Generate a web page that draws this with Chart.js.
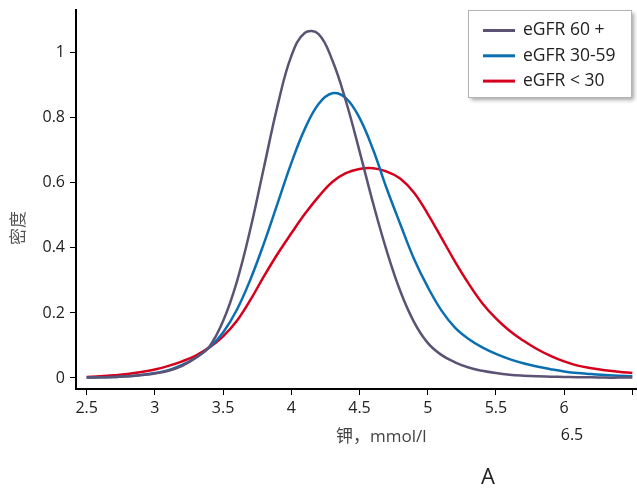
<!DOCTYPE html>
<html>
<head>
<meta charset="utf-8">
<script src="https://cdn.jsdelivr.net/npm/chart.js@4"></script>
<style>
  html, body { margin: 0; padding: 0; background: #fff; }
  #wrap { width: 637px; height: 488px; }
</style>
</head>
<body>
<div id="wrap"><canvas id="kde" width="637" height="488"></canvas></div>
<script>
// potassium, mmol/l (x positions of the density samples)
const potassium = [2.5, 2.6, 2.7, 2.8, 2.9, 3.0, 3.1, 3.2, 3.3, 3.4,
                   3.5, 3.6, 3.7, 3.8, 3.9, 4.0, 4.1, 4.2, 4.3, 4.4,
                   4.5, 4.6, 4.7, 4.8, 4.9, 5.0, 5.1, 5.2, 5.3, 5.4,
                   5.5, 5.6, 5.7, 5.8, 5.9, 6.0, 6.1, 6.2, 6.3, 6.4, 6.5];

const egfr60 = [0.001, 0.002, 0.003, 0.005, 0.009, 0.014, 0.022, 0.037, 0.062, 0.097,
                0.175, 0.295, 0.458, 0.649, 0.839, 0.990, 1.062, 1.058, 0.978, 0.852,
                0.698, 0.537, 0.390, 0.266, 0.172, 0.108, 0.071, 0.048, 0.032, 0.022,
                0.015, 0.010, 0.007, 0.005, 0.004, 0.003, 0.002, 0.002, 0.001, 0.001, 0.001];

const egfr30 = [0.001, 0.002, 0.003, 0.005, 0.009, 0.015, 0.024, 0.040, 0.062, 0.094,
                0.140, 0.209, 0.303, 0.415, 0.538, 0.661, 0.767, 0.843, 0.876, 0.861,
                0.800, 0.702, 0.582, 0.472, 0.366, 0.280, 0.208, 0.155, 0.120, 0.094,
                0.074, 0.058, 0.045, 0.035, 0.027, 0.020, 0.015, 0.012, 0.009, 0.007, 0.005];

const egfrLow = [0.003, 0.005, 0.008, 0.012, 0.018, 0.026, 0.037, 0.051, 0.069, 0.094,
                 0.128, 0.175, 0.240, 0.313, 0.382, 0.445, 0.505, 0.558, 0.603, 0.630,
                 0.643, 0.645, 0.635, 0.613, 0.570, 0.505, 0.432, 0.358, 0.290, 0.230,
                 0.183, 0.145, 0.115, 0.089, 0.068, 0.051, 0.038, 0.030, 0.024, 0.019, 0.015];

const seriesNames = ["eGFR 60 +", "eGFR 30-59", "eGFR < 30"];
const xTicks = [2.5, 3, 3.5, 4, 4.5, 5, 5.5, 6, 6.5];
const yTicks = [0, 0.2, 0.4, 0.6, 0.8, 1];

const textColor = "#222";
const font = "'Open Sans', 'Noto Sans CJK SC', sans-serif";

function pts(ys) {
    return potassium.map(function (x, i) { return { x: x, y: ys[i] }; });
}

function ds(label, ys, color) {
    return {
        label: label,
        data: pts(ys),
        borderColor: color,
        backgroundColor: color,
        borderWidth: 2.5,
        pointRadius: 0,
        fill: false,
        tension: 0.4
    };
}

// legend box drawn inside the plot, top right, with a soft shadow
const boxLegend = {
    id: "boxLegend",
    afterDraw(chart) {
        const c = chart.ctx;
        const x0 = 468, y0 = 10, w = 163, h = 87;
        c.save();
        c.shadowColor = "rgba(0,0,0,0.35)";
        c.shadowOffsetX = 3;
        c.shadowOffsetY = 3;
        c.shadowBlur = 4;
        c.fillStyle = "#fff";
        c.fillRect(x0, y0, w, h);
        c.restore();

        c.save();
        c.strokeStyle = "#b4b4b4";
        c.lineWidth = 1;
        c.strokeRect(x0 + 0.5, y0 + 0.5, w, h);
        c.font = "17.5px " + font;
        c.textBaseline = "middle";
        chart.data.datasets.forEach(function (d, i) {
            const y = 30.5 + i * 25.3;
            c.strokeStyle = d.borderColor;
            c.lineWidth = 3;
            c.beginPath();
            c.moveTo(483, y);
            c.lineTo(515, y);
            c.stroke();
            c.fillStyle = textColor;
            c.fillText(d.label, 523, y);
        });
        c.restore();
    }
};

// texts placed outside the axes
const looseText = {
    id: "looseText",
    afterDraw(chart) {
        const c = chart.ctx;
        c.save();
        c.textBaseline = "middle";

        c.fillStyle = "#444";
        c.font = "17px " + font;
        c.textAlign = "left";
        c.fillText("钾，mmol/l", 336, 437);

        c.fillStyle = textColor;
        c.font = "16px " + font;
        c.textAlign = "center";
        c.fillText("6.5", 572, 435);

        c.font = "22px " + font;
        c.fillText("A", 488, 478);

        c.translate(18, 228);
        c.rotate(-Math.PI / 2);
        c.fillStyle = "#555";
        c.font = "17px 'Noto Sans CJK SC', sans-serif";
        c.fillText("密度", 0, 0);
        c.restore();
    }
};

const ctx = document.getElementById("kde").getContext("2d");

new Chart(ctx, {
    type: "line",
    data: {
        datasets: [
            ds(seriesNames[0], egfr60, "#5b5274"),
            ds(seriesNames[1], egfr30, "#0a6fb1"),
            ds(seriesNames[2], egfrLow, "#d7001c")
        ]
    },
    options: {
        responsive: false,
        animation: false,
        layout: { padding: { top: 10, right: 1, left: 0, bottom: 0 } },
        plugins: {
            legend: { display: false },
            tooltip: { enabled: false }
        },
        scales: {
            x: {
                type: "linear",
                min: 2.4216,
                max: 6.527,
                afterBuildTicks: function (scale) {
                    scale.ticks = xTicks.map(function (v) { return { value: v }; });
                },
                afterFit: function (scale) {
                    scale.height = 99;
                    scale.paddingLeft = 0;
                    scale.paddingRight = 0;
                },
                ticks: {
                    autoSkip: false,
                    maxRotation: 0,
                    padding: 4,
                    color: textColor,
                    font: { family: font, size: 16 },
                    callback: function (v) { return v === 6.5 ? "" : String(v); }
                },
                grid: { drawOnChartArea: false, drawTicks: true, tickLength: 6, color: "#000", lineWidth: 1 },
                border: { color: "#000", width: 2 }
            },
            y: {
                min: -0.034,
                max: 1.132,
                afterBuildTicks: function (scale) {
                    scale.ticks = yTicks.map(function (v) { return { value: v }; });
                },
                afterFit: function (scale) {
                    scale.width = 76;
                    scale.paddingTop = 0;
                    scale.paddingBottom = 0;
                },
                ticks: {
                    padding: 5,
                    color: textColor,
                    font: { family: font, size: 16 },
                    callback: function (v) { return String(v); }
                },
                grid: { drawOnChartArea: false, drawTicks: true, tickLength: 6, color: "#000", lineWidth: 1 },
                border: { color: "#000", width: 2 }
            }
        }
    },
    plugins: [boxLegend, looseText]
});
</script>
</body>
</html>
